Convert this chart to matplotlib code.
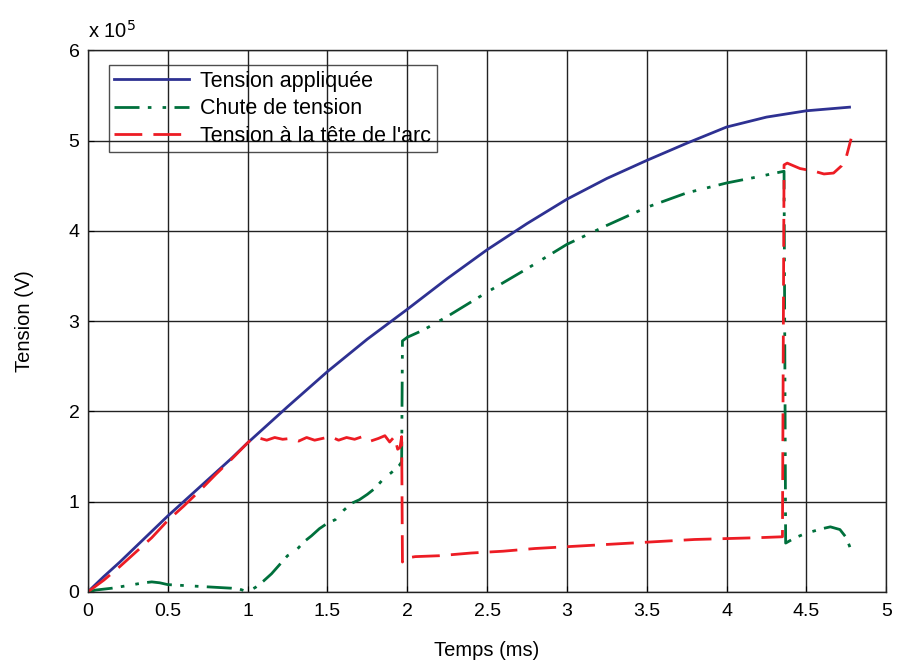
import numpy as np
import matplotlib.pyplot as plt

plt.rcParams['font.family'] = ['Liberation Sans', 'DejaVu Sans']

# all voltages in units of 1e5 V
t_app = [0, 0.1, 0.2, 0.3, 0.4, 0.5, 0.6, 0.7, 0.8, 0.9, 1.0, 1.25, 1.5, 1.75, 2.0,
         2.25, 2.5, 2.75, 3.0, 3.25, 3.5, 3.75, 4.0, 4.25, 4.5, 4.77]
v_app = [0, 0.17, 0.33, 0.50, 0.67, 0.84, 1.00, 1.16, 1.32, 1.48, 1.65, 2.05, 2.44, 2.80, 3.13,
         3.47, 3.79, 4.08, 4.35, 4.58, 4.78, 4.97, 5.15, 5.26, 5.33, 5.37]

t_chute = [0, 0.05, 0.15, 0.25, 0.35, 0.4, 0.45, 0.5, 0.6, 0.7, 0.8, 0.9, 0.95, 1.0,
           1.05, 1.1, 1.15, 1.2, 1.25, 1.3, 1.35, 1.4, 1.45, 1.5, 1.55, 1.6, 1.65, 1.7,
           1.75, 1.8, 1.85, 1.9, 1.95, 1.965, 1.97, 2.0, 2.1, 2.25, 2.5, 2.75, 3.0, 3.25,
           3.5, 3.75, 4.0, 4.2, 4.36, 4.37, 4.43, 4.5, 4.6, 4.65, 4.71, 4.75, 4.78]
v_chute = [0, 0.02, 0.04, 0.07, 0.10, 0.11, 0.10, 0.08, 0.07, 0.06, 0.05, 0.04, 0.03, 0.0,
           0.05, 0.12, 0.20, 0.30, 0.40, 0.45, 0.55, 0.62, 0.70, 0.76, 0.80, 0.90, 0.98, 1.02,
           1.08, 1.15, 1.25, 1.32, 1.40, 1.44, 2.78, 2.82, 2.90, 3.05, 3.32, 3.58, 3.85, 4.06,
           4.26, 4.42, 4.53, 4.60, 4.66, 0.54, 0.60, 0.65, 0.70, 0.72, 0.69, 0.60, 0.46]

t_arc = [0, 0.1, 0.2, 0.3, 0.4, 0.5, 0.6, 0.7, 0.8, 0.9, 1.0, 1.03, 1.08, 1.12, 1.17,
         1.22, 1.27, 1.32, 1.37, 1.42, 1.47, 1.52, 1.57, 1.62, 1.67, 1.72, 1.77, 1.82,
         1.86, 1.89, 1.92, 1.94, 1.955, 1.965, 1.97, 1.98, 2.05, 2.2, 2.4, 2.6, 2.8, 3.0,
         3.2, 3.4, 3.6, 3.8, 4.0, 4.2, 4.35, 4.36, 4.38, 4.46, 4.55, 4.61, 4.67, 4.72,
         4.75, 4.78]
v_arc = [0, 0.13, 0.28, 0.44, 0.60, 0.79, 0.95, 1.12, 1.30, 1.47, 1.65, 1.70, 1.70, 1.68, 1.71,
         1.69, 1.70, 1.67, 1.71, 1.68, 1.70, 1.72, 1.68, 1.71, 1.69, 1.72, 1.67, 1.70,
         1.73, 1.66, 1.72, 1.58, 1.60, 1.72, 0.33, 0.37, 0.39, 0.40, 0.43, 0.45, 0.48, 0.50,
         0.52, 0.54, 0.56, 0.58, 0.59, 0.60, 0.61, 4.73, 4.75, 4.69, 4.66, 4.63, 4.64, 4.72,
         4.82, 5.02]

labels = ['Tension appliquée', 'Chute de tension', "Tension à la tête de l'arc"]

fig = plt.figure(figsize=(8.97, 6.62), dpi=100)
ax = fig.add_axes([0.098, 0.106, 0.890, 0.818])

ax.plot(t_app, v_app, color='#2e3192', lw=2.0, label=labels[0])
ax.plot(t_chute, v_chute, color='#00703c', lw=2.0, dashes=(9, 3, 1.3, 4, 1.3, 3), label=labels[1])
ax.plot(t_arc, v_arc, color='#ed1c24', lw=2.0, dashes=(10, 4), label=labels[2])

ax.set_xlim(0, 5)
ax.set_ylim(0, 6)
ax.set_xticks(np.arange(0, 5.01, 0.5))
ax.set_xticklabels(['0', '0.5', '1', '1.5', '2', '2.5', '3', '3.5', '4', '4.5', '5'])
ax.set_yticks(range(7))
ax.grid(True, color='#222222', lw=1.0)
ax.tick_params(direction='in', labelsize=14, length=4)
ax.tick_params(axis='x', pad=8)
ax.tick_params(axis='y', pad=6)
for s in ax.spines.values():
    s.set_color('#222222')
    s.set_linewidth(1.0)

ax.set_xlabel('Temps (ms)', fontsize=14.5, labelpad=15)
ax.set_ylabel('Tension (V)', fontsize=14.5, labelpad=25)
ax.text(0.0, 1.015, 'x 10$^5$', transform=ax.transAxes, fontsize=14.5, va='bottom')

leg = ax.legend(loc='upper left', bbox_to_anchor=(0.026, 0.972), borderaxespad=0,
                fontsize=15.5, handlelength=3.5, handletextpad=0.5, fancybox=False,
                facecolor='none', edgecolor='#222222', borderpad=0.25, labelspacing=0.3)
leg.get_frame().set_linewidth(1.0)

fig.savefig('out.png', dpi=100)
